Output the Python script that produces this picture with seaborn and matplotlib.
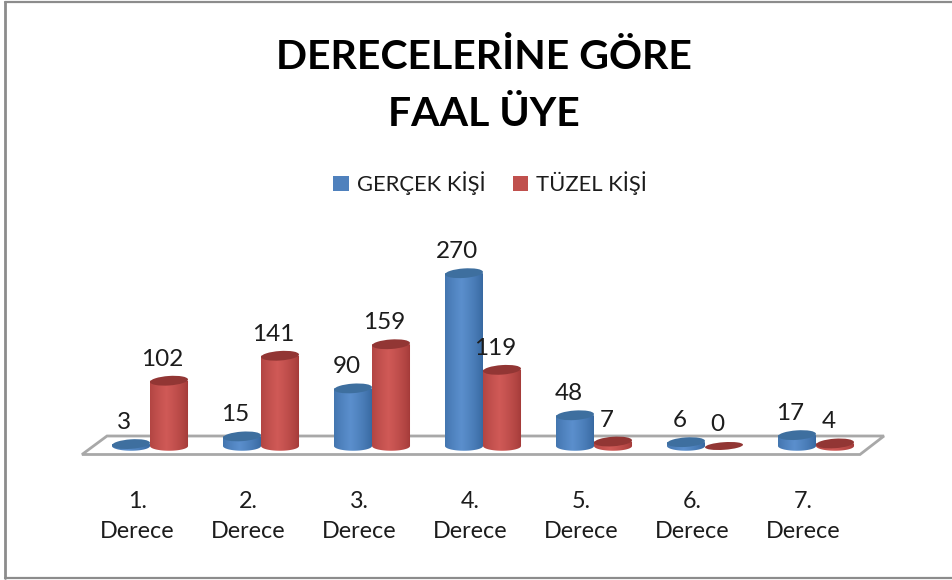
import numpy as np
import pandas as pd
import matplotlib
matplotlib.use("Agg")
import matplotlib.pyplot as plt
import seaborn as sns
from matplotlib.colors import to_rgb
from matplotlib.patches import Ellipse, Polygon, Rectangle
from matplotlib.path import Path
from matplotlib.transforms import IdentityTransform, Affine2D

# ---------- data ----------
categories = ["1.\nDerece", "2.\nDerece", "3.\nDerece", "4.\nDerece",
              "5.\nDerece", "6.\nDerece", "7.\nDerece"]
series_names = ["GERÇEK KİŞİ", "TÜZEL KİŞİ"]
gercek = [3, 15, 90, 270, 48, 6, 17]
tuzel = [102, 141, 159, 119, 7, 0, 4]
title_text = "DERECELERİNE GÖRE\nFAAL ÜYE"

# ---------- style ----------
W, H = 953, 580
sns.set_theme(style="white")
plt.rcParams["font.family"] = ["Lato", "DejaVu Sans"]
TXT = "#1c1c1c"
BASE = ["#4f81bd", "#c0504d"]
SHADES = [("#34659c", "#5b8fcd", "#3e6f9f"), ("#a03836", "#d05a57", "#923634")]

df = pd.DataFrame({
    "cat": categories * 2,
    "series": [series_names[0]] * 7 + [series_names[1]] * 7,
    "value": gercek + tuzel,
})

fig = plt.figure(figsize=(W / 100, H / 100), dpi=100, facecolor="white")
y_base = 446.0
px_per_unit = 0.64
y_low, y_high = -20, 300
ax = fig.add_axes([94.5 / W, (H - y_base - px_per_unit * (-y_low)) / H, 777 / W,
                   px_per_unit * (y_high - y_low) / H])
sns.barplot(data=df, x="cat", y="value", hue="series", hue_order=series_names,
            palette=BASE, width=0.685, gap=0, dodge=True, saturation=1,
            errorbar=None, ax=ax, legend=True)
ax.set_ylim(y_low, y_high)
ax.set_xlim(-0.5, 6.5)
ax.set_xlabel("")
ax.set_ylabel("")
ax.set_yticks([])
sns.despine(ax=ax, left=True, bottom=True)
ax.patch.set_alpha(0)

# x labels sit left of the group centre
ax.tick_params(axis="x", length=0, pad=23.5, labelsize=16.8, labelcolor=TXT)
for lab in ax.get_xticklabels():
    lab.set_linespacing(1.5)
    lab.set_transform(lab.get_transform() + Affine2D().translate(-12.5, 0))

fig.canvas.draw()
to_disp = ax.transData.transform


def fy(y):
    return H - y


# floor of the 3D plot
floor = Polygon([(82, fy(454.5)), (107, fy(436)), (884, fy(436)), (860, fy(454.5))],
                closed=True, transform=IdentityTransform(), facecolor="white",
                edgecolor="#a8a8a8", lw=2.0, zorder=0.5, clip_on=False)
ax.add_patch(floor)

TILT = 4.0
EH = 9.5
for s, (container, vals) in enumerate(zip(ax.containers, (gercek, tuzel))):
    edge, mid, top = [np.array(to_rgb(c)) for c in SHADES[s]]
    for i, (bar, v) in enumerate(zip(container, vals)):
        x0, w = bar.get_x(), bar.get_width()
        (px0, py0), (px1, py1) = to_disp([(x0, 0), (x0 + w, v)])
        pc = (px0 + px1) / 2
        pw = px1 - px0
        bar.set_visible(False)
        # body: horizontal gradient clipped to a cylinder outline
        t = np.linspace(0, 1, 40)
        prof = np.clip(1 - np.abs(t - 0.42) / 0.58, 0, 1) ** 0.7
        rgb = edge[None, :] + (mid - edge)[None, :] * prof[:, None]
        if v > 0:
            theta = np.linspace(np.pi, 2 * np.pi, 30)
            bx = pc + pw / 2 * np.cos(theta)
            by = py0 + EH / 2 * np.sin(theta)
            verts = np.column_stack([np.r_[bx, px1, px0], np.r_[by, py1, py1]])
            clip = Path(np.vstack([verts, verts[:1]]), closed=True)
            im = ax.imshow(rgb[None, :, :], extent=(x0, x0 + w, y_low, v + 2),
                           aspect="auto", zorder=2 + s + i * 0.01, interpolation="bilinear")
            im.set_clip_path(clip, IdentityTransform())
            ax.add_patch(Ellipse((pc, py1), pw, EH, angle=TILT, facecolor=top,
                                 edgecolor="none", transform=IdentityTransform(),
                                 zorder=2.005 + s + i * 0.01, clip_on=False))
        else:
            ax.add_patch(Ellipse((pc, py1), pw, EH * 0.8, angle=TILT, facecolor=top,
                                 edgecolor="none", transform=IdentityTransform(),
                                 zorder=2.005 + s + i * 0.01, clip_on=False))
        ax.annotate(str(v), xy=(x0 + w / 2, v), xytext=(-6.5 * 0.72, 21.5 * 0.72),
                    textcoords="offset points", ha="center", va="center",
                    fontsize=17.5, color=TXT, zorder=10, annotation_clip=False)
ax.set_xlim(-0.5, 6.5)
ax.set_ylim(y_low, y_high)

# legend
handles = [Rectangle((0, 0), 1, 1, facecolor=c, edgecolor="none") for c in BASE]
ax.get_legend().remove()
fig.legend(handles, series_names, loc="center", bbox_to_anchor=(490 / W, fy(183) / H),
           ncol=2, frameon=False, fontsize=15.8, labelcolor=TXT,
           handlelength=0.7, handleheight=0.7, handletextpad=0.35, columnspacing=1.25)

# title
fig.text(484 / W, fy(86) / H, title_text, ha="center", va="center", fontsize=29.5,
         fontweight="bold", color="black", linespacing=1.68)

# outer frame lines
fig.add_artist(plt.Line2D([4.5 / W, 4.5 / W], [fy(1.5) / H, fy(578) / H], color="#8c8c8c", lw=2))
fig.add_artist(plt.Line2D([4.5 / W, 1], [fy(1.5) / H, fy(1.5) / H], color="#8c8c8c", lw=1.6))
fig.add_artist(plt.Line2D([4.5 / W, 1], [fy(578) / H, fy(578) / H], color="#8c8c8c", lw=1.6))

fig.savefig("out.png", dpi=100)
